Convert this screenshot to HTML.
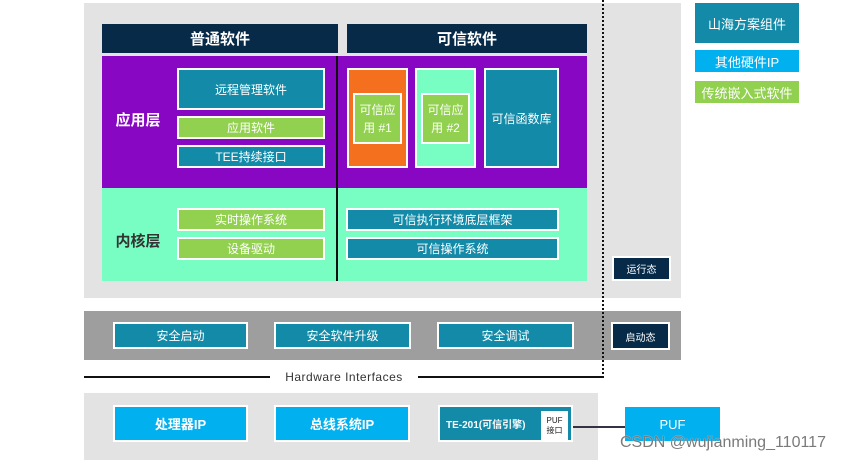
<!DOCTYPE html>
<html><head><meta charset="utf-8"><style>
body{margin:0;width:865px;height:464px;background:#fff;position:relative;overflow:hidden;font-family:"Liberation Sans","Noto Sans CJK SC",sans-serif}
.a{position:absolute;box-sizing:border-box;display:flex;align-items:center;justify-content:center;color:#fff;text-align:center}
.b{border:2px solid #fff}
.t{background:#128aa8}.g{background:#92d050}.d{background:#062a48}.c{background:#00b0ef}
</style></head><body>
<div class="a" style="left:84px;top:3px;width:597px;height:295px;background:#e3e3e3"></div>
<div class="a d" style="left:102px;top:24px;width:236px;height:29px;font-size:15px;font-weight:bold">普通软件</div>
<div class="a d" style="left:347px;top:24px;width:240px;height:29px;font-size:15px;font-weight:bold">可信软件</div>
<div class="a" style="left:102px;top:56px;width:485px;height:132px;background:#8807c3"></div>
<div class="a" style="left:102px;top:188px;width:485px;height:93px;background:#78fdc3"></div>
<div class="a" style="left:336px;top:56px;width:2px;height:225px;background:#111"></div>
<div class="a" style="left:108px;top:108px;width:60px;height:22px;font-size:15px;font-weight:bold">应用层</div>
<div class="a" style="left:108px;top:229px;width:60px;height:22px;font-size:15px;font-weight:bold;color:#333">内核层</div>
<div class="a t b" style="left:177px;top:68px;width:148px;height:42px;font-size:12px">远程管理软件</div>
<div class="a g b" style="left:177px;top:116px;width:148px;height:23px;font-size:12px">应用软件</div>
<div class="a t b" style="left:177px;top:145px;width:148px;height:23px;font-size:12px">TEE持续接口</div>
<div class="a b" style="left:347px;top:68px;width:61px;height:100px;background:#f4701e"></div>
<div class="a g b" style="left:353px;top:93px;width:49px;height:51px;font-size:12px;line-height:18px">可信应<br>用 #1</div>
<div class="a b" style="left:415px;top:68px;width:61px;height:100px;background:#78fdc3"></div>
<div class="a g b" style="left:421px;top:93px;width:49px;height:51px;font-size:12px;line-height:18px">可信应<br>用 #2</div>
<div class="a t b" style="left:484px;top:68px;width:75px;height:100px;font-size:12px">可信函数库</div>
<div class="a g b" style="left:177px;top:208px;width:148px;height:23px;font-size:12px">实时操作系统</div>
<div class="a g b" style="left:177px;top:237px;width:148px;height:23px;font-size:12px">设备驱动</div>
<div class="a t b" style="left:346px;top:208px;width:213px;height:23px;font-size:12px">可信执行环境底层框架</div>
<div class="a t b" style="left:346px;top:237px;width:213px;height:23px;font-size:12px">可信操作系统</div>
<div class="a d b" style="left:612px;top:256px;width:59px;height:25px;font-size:10px">运行态</div>
<div class="a" style="left:84px;top:311px;width:597px;height:49px;background:#9e9e9e"></div>
<div class="a t b" style="left:113px;top:322px;width:135px;height:27px;font-size:12px">安全启动</div>
<div class="a t b" style="left:274px;top:322px;width:137px;height:27px;font-size:12px">安全软件升级</div>
<div class="a t b" style="left:437px;top:322px;width:137px;height:27px;font-size:12px">安全调试</div>
<div class="a d b" style="left:611px;top:322px;width:59px;height:28px;font-size:10px">启动态</div>
<div style="position:absolute;left:602px;top:0;height:378px;border-left:2px dotted #111"></div>
<div style="position:absolute;left:84px;top:376px;width:186px;height:2px;background:#111"></div>
<div style="position:absolute;left:418px;top:376px;width:186px;height:2px;background:#111"></div>
<div class="a" style="left:270px;top:368px;width:148px;height:18px;font-size:12px;color:#333;letter-spacing:.5px">Hardware Interfaces</div>
<div class="a" style="left:84px;top:393px;width:514px;height:67px;background:#e3e3e3"></div>
<div class="a c b" style="left:113px;top:405px;width:135px;height:37px;font-size:13px;font-weight:bold">处理器IP</div>
<div class="a c b" style="left:274px;top:405px;width:136px;height:37px;font-size:13px;font-weight:bold">总线系统IP</div>
<div class="a t b" style="left:438px;top:405px;width:135px;height:37px;font-size:10px;font-weight:bold;justify-content:flex-start;padding-left:6px">TE-201(可信引擎)</div>
<div class="a" style="left:541px;top:411px;width:27px;height:29px;background:#fff;color:#222;font-size:8px;line-height:10px">PUF<br>接口</div>
<div style="position:absolute;left:573px;top:426px;width:52px;height:2px;background:#334"></div>
<div class="a c" style="left:625px;top:407px;width:95px;height:34px;font-size:13px">PUF</div>
<div class="a" style="left:620px;top:432px;width:235px;height:22px;font-size:16px;color:#7a7a7a;justify-content:flex-start;text-shadow:0 0 1px #fff">CSDN @wujianming_110117</div>
<div class="a t" style="left:695px;top:3px;width:104px;height:40px;font-size:13px">山海方案组件</div>
<div class="a c" style="left:695px;top:50px;width:104px;height:22px;font-size:13px">其他硬件IP</div>
<div class="a g" style="left:695px;top:81px;width:104px;height:22px;font-size:13px">传统嵌入式软件</div>
</body></html>
